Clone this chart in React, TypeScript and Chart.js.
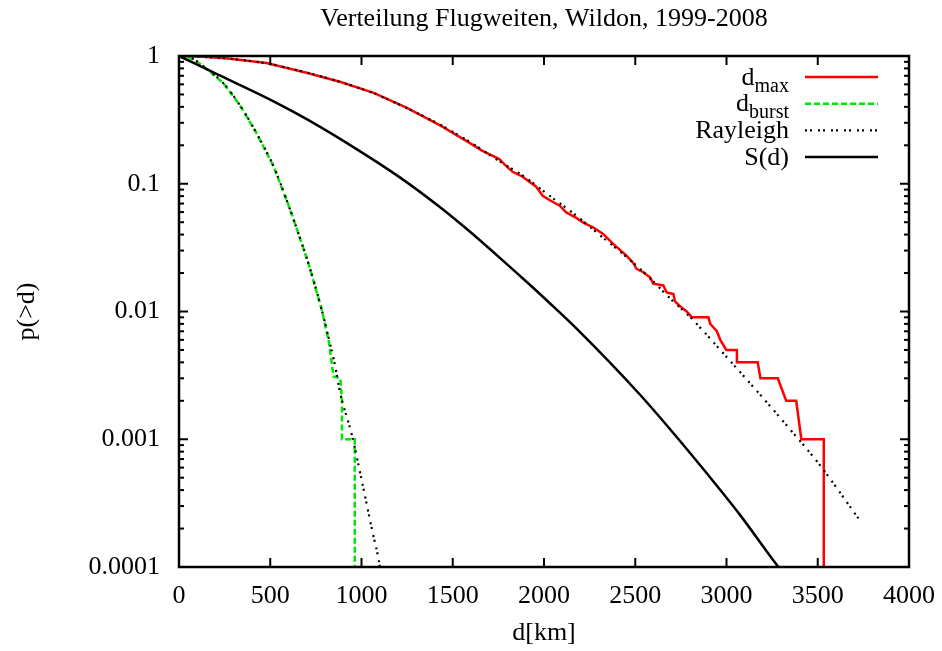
import React, { useEffect, useRef } from 'react';
import { Chart, registerables } from 'chart.js';

Chart.register(...registerables);

const titleText = 'Verteilung Flugweiten, Wildon, 1999-2008';
const xAxisTitle = 'd[km]';
const yAxisTitle = 'p(>d)';

const xTickValues = [0, 500, 1000, 1500, 2000, 2500, 3000, 3500, 4000];
const xTickLabels = ['0', '500', '1000', '1500', '2000', '2500', '3000', '3500', '4000'];
const yTickValues = [0.0001, 0.001, 0.01, 0.1, 1];
const yTickLabels = ['0.0001', '0.001', '0.01', '0.1', '1'];

// d_max empirical distribution
const dMaxKm = [0, 132, 270, 479, 699, 886, 1067, 1249, 1436, 1590, 1663, 1755, 1792, 1828, 1883, 1957, 1993, 2030, 2086, 2122, 2177, 2213, 2268, 2324, 2379, 2452, 2489, 2507, 2544, 2581, 2599, 2654, 2672, 2709, 2718, 2745, 2782, 2810, 2901, 2911, 2947, 2966, 2999, 3057, 3057, 3171, 3186, 3281, 3327, 3382, 3410, 3533, 3533];
const dMaxP = [1, 0.985, 0.955, 0.88, 0.74, 0.626, 0.514, 0.392, 0.284, 0.21, 0.181, 0.156, 0.138, 0.124, 0.1135, 0.0948, 0.0806, 0.0746, 0.0673, 0.0597, 0.054, 0.0499, 0.0456, 0.0405, 0.0338, 0.0274, 0.024, 0.0216, 0.0203, 0.0185, 0.0165, 0.016, 0.0141, 0.0137, 0.012, 0.011, 0.01, 0.009, 0.009, 0.008, 0.007, 0.006, 0.005, 0.005, 0.004, 0.004, 0.003, 0.003, 0.002, 0.002, 0.001, 0.001, 0.000001];

// d_burst empirical distribution
const dBurstKm = [0, 75, 149, 242, 336, 424, 517, 600, 655, 710, 783, 820, 847, 884, 893, 893, 963, 963];
const dBurstP = [1, 0.95, 0.8, 0.615, 0.407, 0.25, 0.138, 0.068, 0.0405, 0.0236, 0.0102, 0.0059, 0.0031, 0.003, 0.002, 0.001, 0.001, 0.000001];

// Rayleigh fit for d_max
const rayMaxKm = [0, 132, 270, 479, 699, 886, 1067, 1249, 1436, 1599, 1746, 1891, 2030, 2173, 2307, 2443, 2571, 2690, 2810, 2870, 2993, 3168, 3341, 3512, 3732];
const rayMaxP = [1, 0.985, 0.955, 0.875, 0.742, 0.625, 0.51, 0.39, 0.287, 0.21, 0.153, 0.114, 0.0806, 0.0569, 0.0395, 0.0274, 0.0188, 0.0127, 0.0088, 0.0071, 0.00453, 0.00237, 0.00123, 0.000627, 0.00023];

// Rayleigh fit for d_burst
const rayBurstKm = [0, 75, 149, 242, 336, 424, 517, 600, 655, 710, 783, 820, 850, 884, 948, 1003, 1058, 1095, 1120];
const rayBurstP = [1, 0.95, 0.8, 0.615, 0.407, 0.25, 0.138, 0.068, 0.0405, 0.0236, 0.0102, 0.0062, 0.0041, 0.00228, 0.00107, 0.000464, 0.000195, 0.000113, 0.00007];

// S(d)
const sKm = [0, 214, 526, 707, 975, 1210, 1429, 1577, 1758, 1939, 2032, 2180, 2525, 2706, 2892, 3073, 3275, 3505];
const sP = [1, 0.714, 0.4355, 0.316, 0.186, 0.1122, 0.0658, 0.0442, 0.0263, 0.0154, 0.0116, 0.0073, 0.00224, 0.00113, 0.000541, 0.000257, 0.000104, 0.000041];

const legendMain = ['d', 'd', 'Rayleigh', 'S(d)'];
const legendSub = ['max', 'burst', '', ''];
const legendColor = ['#ff0000', '#00e600', '#000000', '#000000'];
const legendDash: number[][] = [[], [6, 3], [2, 3, 2, 6], []];
const legendWidth = [2.5, 2.5, 2.2, 2.5];

const FONT = '"Liberation Serif", "Times New Roman", serif';

const toPts = (xs: number[], ys: number[]) => xs.map((x, i) => ({ x, y: ys[i] }));

const framePlugin = {
  id: 'gnuframe',
  afterDatasetsDraw(chart: any) {
    const { ctx, chartArea: a, scales } = chart;
    const xs = scales.x;
    const ys = scales.y;
    const line = (x1: number, y1: number, x2: number, y2: number) => {
      ctx.beginPath();
      ctx.moveTo(x1, y1);
      ctx.lineTo(x2, y2);
      ctx.stroke();
    };
    ctx.save();
    ctx.strokeStyle = '#000';
    ctx.setLineDash([]);
    ctx.lineWidth = 2;
    yTickValues.forEach((v) => {
      const py = ys.getPixelForValue(v);
      line(a.left, py, a.left + 9, py);
      line(a.right, py, a.right - 9, py);
      if (v < 1) {
        for (let m = 2; m <= 9; m++) {
          const p = ys.getPixelForValue(v * m);
          line(a.left, p, a.left + 5, p);
          line(a.right, p, a.right - 5, p);
        }
      }
    });
    xTickValues.forEach((v) => {
      const px = xs.getPixelForValue(v);
      line(px, a.bottom, px, a.bottom - 9);
      line(px, a.top, px, a.top + 9);
    });
    ctx.lineWidth = 2.5;
    ctx.strokeRect(a.left, a.top, a.right - a.left, a.bottom - a.top);

    // legend
    const textRight = a.right - 120;
    const sx1 = a.right - 104;
    const sx2 = a.right - 31;
    legendMain.forEach((label, i) => {
      const ly = a.top + 21 + i * 26.7;
      ctx.strokeStyle = legendColor[i];
      ctx.lineWidth = legendWidth[i];
      ctx.setLineDash(legendDash[i]);
      line(sx1, ly, sx2, ly);
      ctx.setLineDash([]);
      ctx.fillStyle = '#000';
      ctx.textAlign = 'right';
      ctx.textBaseline = 'alphabetic';
      const base = ly + 7.5;
      let right = textRight;
      if (legendSub[i]) {
        ctx.font = '20px ' + FONT;
        ctx.fillText(legendSub[i], right, base + 7);
        right -= ctx.measureText(legendSub[i]).width;
      }
      ctx.font = '26px ' + FONT;
      ctx.fillText(label, right, base);
    });

    // titles
    ctx.fillStyle = '#000';
    ctx.font = '26px ' + FONT;
    ctx.textAlign = 'center';
    ctx.textBaseline = 'alphabetic';
    const cx = (a.left + a.right) / 2;
    ctx.fillText(titleText, cx, 26);
    ctx.fillText(xAxisTitle, cx, 640);
    ctx.translate(34, (a.top + a.bottom) / 2);
    ctx.rotate(-Math.PI / 2);
    ctx.fillText(yAxisTitle, 0, 0);
    ctx.restore();
  },
};

export default function App() {
  const ref = useRef<HTMLCanvasElement | null>(null);
  useEffect(() => {
    if (!ref.current) return;
    const common = { pointRadius: 0, tension: 0, fill: false, borderCapStyle: 'butt' as const };
    const smooth = { ...common, cubicInterpolationMode: 'monotone' as const };
    const chart = new Chart(ref.current, {
      type: 'line',
      data: {
        datasets: [
          { ...smooth, label: 'Rayleigh', data: toPts(rayMaxKm, rayMaxP), borderColor: '#000', borderWidth: 2.2, borderDash: [2, 3, 2, 6], order: 0 },
          { ...smooth, label: 'Rayleigh burst', data: toPts(rayBurstKm, rayBurstP), borderColor: '#000', borderWidth: 2.2, borderDash: [2, 3, 2, 6], order: 0 },
          { ...smooth, label: 'S(d)', data: toPts(sKm, sP), borderColor: '#000', borderWidth: 2.5, order: 1 },
          { ...common, label: 'd_burst', data: toPts(dBurstKm, dBurstP), borderColor: '#00e600', borderWidth: 2.5, borderDash: [6, 3], order: 2 },
          { ...common, label: 'd_max', data: toPts(dMaxKm, dMaxP), borderColor: '#ff0000', borderWidth: 2.5, order: 3 },
        ],
      },
      options: {
        animation: false,
        responsive: false,
        devicePixelRatio: 1,
        parsing: false as any,
        layout: { padding: { top: 56, right: 33, left: 0, bottom: 0 } },
        plugins: { legend: { display: false }, title: { display: false }, tooltip: { enabled: false } },
        scales: {
          x: {
            type: 'linear',
            min: 0,
            max: 4000,
            grid: { display: false, drawTicks: false },
            border: { display: false },
            afterBuildTicks: (s: any) => {
              s.ticks = xTickValues.map((v) => ({ value: v }));
            },
            afterFit: (s: any) => {
              s.height = 84;
              s.paddingLeft = 0;
              s.paddingRight = 0;
            },
            ticks: {
              autoSkip: false,
              maxRotation: 0,
              padding: 14,
              color: '#000',
              font: { family: FONT, size: 26 },
              callback: (v: any) => {
                const i = xTickValues.indexOf(Number(v));
                return i >= 0 ? xTickLabels[i] : '';
              },
            },
          },
          y: {
            type: 'logarithmic',
            min: 0.0001,
            max: 1,
            grid: { display: false, drawTicks: false },
            border: { display: false },
            afterBuildTicks: (s: any) => {
              s.ticks = yTickValues.map((v) => ({ value: v }));
            },
            afterFit: (s: any) => {
              s.width = 179;
              s.paddingTop = 0;
              s.paddingBottom = 0;
            },
            ticks: {
              autoSkip: false,
              padding: 19,
              color: '#000',
              font: { family: FONT, size: 26 },
              callback: (v: any) => {
                const n = Number(v);
                const i = yTickValues.findIndex((t) => Math.abs(t - n) / t < 1e-6);
                return i >= 0 ? yTickLabels[i] : '';
              },
            },
          },
        },
      },
      plugins: [framePlugin],
    });
    return () => chart.destroy();
  }, []);
  return (
    <div style={{ position: 'absolute', left: 0, top: 0, width: 942, height: 651, background: '#fff' }}>
      <canvas ref={ref} width={942} height={651} style={{ display: 'block' }} />
    </div>
  );
}
